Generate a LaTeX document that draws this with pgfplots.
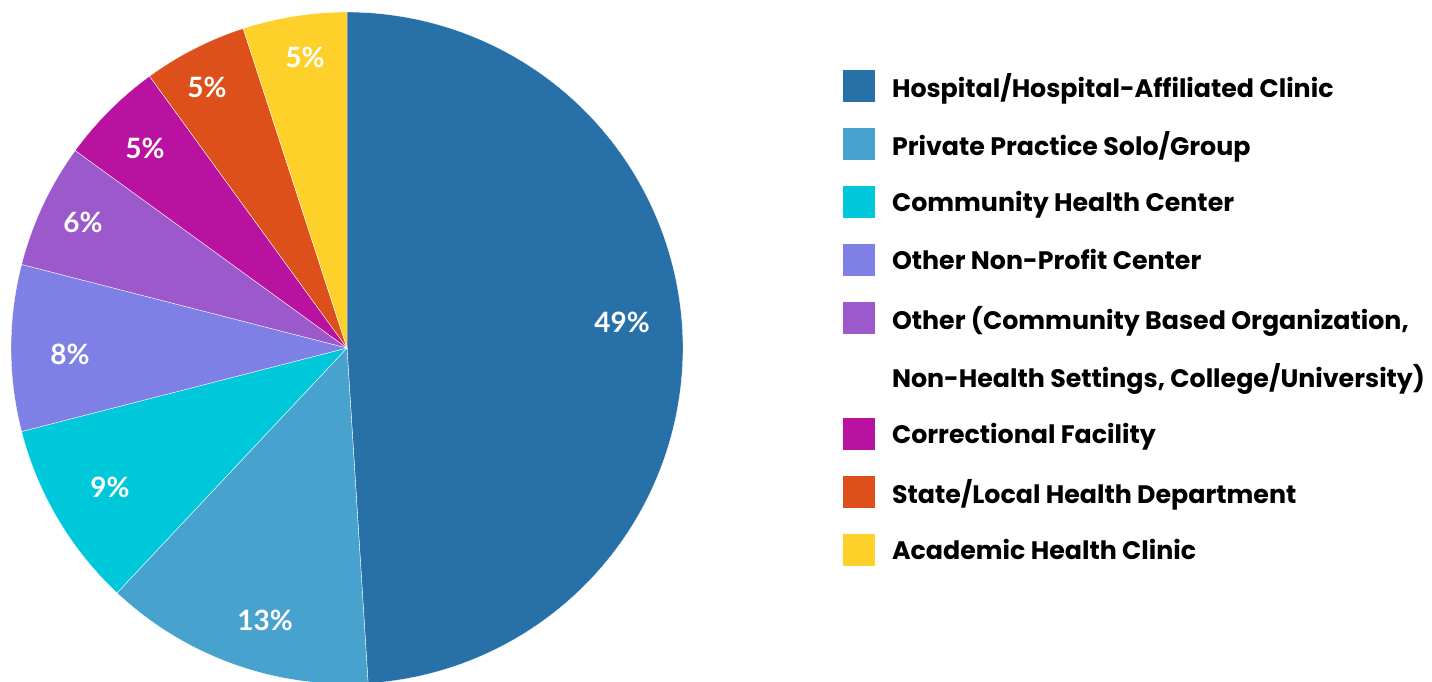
\documentclass[border=0pt]{standalone}
\usepackage{pgfplots}
\pgfplotsset{compat=1.18}
\usepackage{fontspec}
\setmainfont{Lato}
\newfontfamily\legfont{Poppins}
\newfontfamily\labfont{Lato}
\definecolor{c1}{HTML}{2771A8}
\definecolor{c2}{HTML}{47A3CE}
\definecolor{c3}{HTML}{00C8DB}
\definecolor{c4}{HTML}{7F80E6}
\definecolor{c5}{HTML}{9B59CB}
\definecolor{c6}{HTML}{B912A0}
\definecolor{c7}{HTML}{DE501B}
\definecolor{c8}{HTML}{FDD02A}
% sector: colour, start angle, end angle (angles from shares: 90 - 3.6*cumulative %)
\newcommand{\sector}[3]{%
  \addplot[fill=#1, draw=white, line width=0.35pt, domain=#2:#3, samples=150]
    ({347+336*cos(x)},{333+336*sin(x)}) -- (347,333) -- cycle;}
\begin{document}
\begin{tikzpicture}
\useasboundingbox (0,0) rectangle (1432pt,681pt);
\begin{axis}[
  at={(0,0)}, anchor=south west,
  width=1432pt, height=681pt, scale only axis,
  xmin=0, xmax=1432, ymin=0, ymax=681,
  hide axis, clip=false,
  legend cell align=left,
  legend image code/.code={\fill[#1, draw=none] (0pt,-16pt) rectangle (32pt,16pt);},
  legend style={at={(843/1432,611/681)}, anchor=north west, draw=none, fill=none,
    inner sep=0pt, outer sep=0pt, row sep=26.05pt, column sep=17pt,
    font=\legfont\bfseries\fontsize{25.3}{25.3}\selectfont,
    nodes={inner sep=0pt}},
]
% shares: 49, 13, 9, 8, 6, 5, 5, 5 (%)
\sector{c1}{-86.4}{90}
\addlegendentry{Hospital/Hospital-Affiliated Clinic}
\sector{c2}{-133.2}{-86.4}
\addlegendentry{Private Practice Solo/Group}
\sector{c3}{-165.6}{-133.2}
\addlegendentry{Community Health Center}
\sector{c4}{-194.4}{-165.6}
\addlegendentry{Other Non-Profit Center}
\sector{c5}{-216}{-194.4}
\addlegendentry{Other (Community Based Organization,}
\addlegendimage{fill=white, draw=none}
\addlegendentry{Non-Health Settings, College/University)}
\sector{c6}{-234}{-216}
\addlegendentry{Correctional Facility}
\sector{c7}{-252}{-234}
\addlegendentry{State/Local Health Department}
\sector{c8}{-270}{-252}
\addlegendentry{Academic Health Clinic}
\addplot[only marks, mark=none, forget plot, point meta=explicit symbolic,
  nodes near coords={\pgfplotspointmeta\%},
  nodes near coords style={font=\labfont\bfseries\fontsize{28}{28}\selectfont,
    text=white, anchor=center, inner sep=0pt}]
  table[meta=p] {
x y p
622 359 49
265 61 13
110 194 9
70 327 8
83 459 6
145 533 5
207 594 5
305 624 5
};
\end{axis}
\end{tikzpicture}
\end{document}
